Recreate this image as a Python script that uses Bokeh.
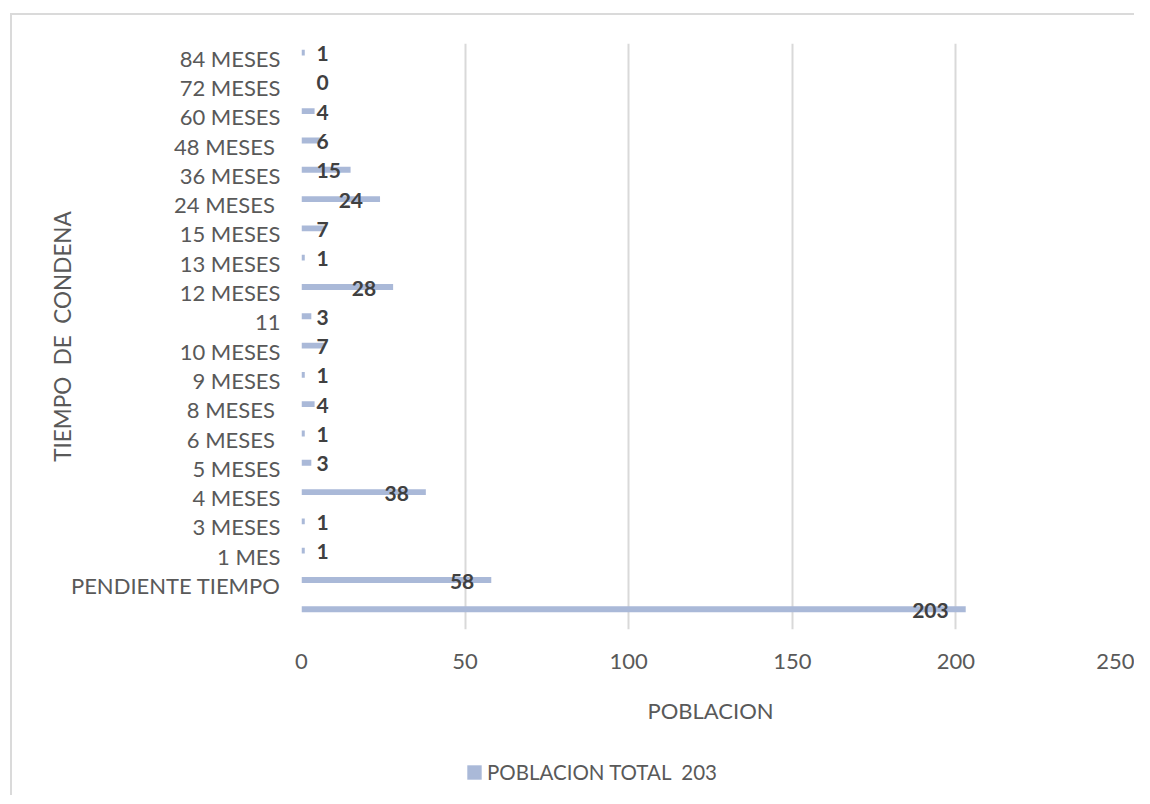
from bokeh.plotting import figure
from bokeh.layouts import column
from bokeh.models import (FactorRange, Range1d, ColumnDataSource, Legend, LegendItem,
                          SingleIntervalTicker)
from bokeh.transform import dodge
from bokeh.core.properties import value, field
from bokeh.embed import file_html
from bokeh.resources import INLINE

# ---- data (bottom to top) ----
categories = ["", "PENDIENTE TIEMPO", "1 MES", "3 MESES", "4 MESES", "5 MESES",
              "6 MESES ", "8 MESES ", "9 MESES", "10 MESES", "11", "12 MESES",
              "13 MESES", "15 MESES", "24 MESES ", "36 MESES", "48 MESES ",
              "60 MESES", "72 MESES", "84 MESES"]
values = [203, 58, 1, 1, 38, 3, 1, 4, 1, 7, 3, 28, 1, 7, 24, 15, 6, 4, 0, 1]
series_name = "POBLACION TOTAL \u00a0203"
x_title = "POBLACION"
y_title = "TIEMPO \u00a0DE \u00a0CONDENA"

BAR = "#aab9d8"
FONT = "Lato"
W = 1122

# label anchoring (inside end for long bars, next to axis for short ones)
inside = [v >= 20 for v in values]
src = ColumnDataSource(dict(
    cat=categories,
    val=values,
    lbl=[str(v) for v in values],
    lx=[v if ins else 0 for v, ins in zip(values, inside)],
    align=["right" if ins else "left" for ins in inside],
    xoff=[-17 if ins else 15 for ins in inside],
))

p = figure(width=W, height=720,
           y_range=FactorRange(factors=categories),
           x_range=Range1d(0, 250),
           output_backend="svg", toolbar_location=None,
           min_border_left=289, min_border_right=15,
           min_border_top=28, min_border_bottom=106)
p.outline_line_color = None
p.background_fill_color = "white"
p.border_fill_color = "white"

r = p.hbar(y=dodge("cat", 0.19, range=p.y_range), left=0, right="val", height=0.2,
           fill_color=BAR, line_color=None, source=src)

p.text(x="lx", y="cat", text="lbl", x_offset="xoff", y_offset=-4.5,
       text_align=field("align"), text_baseline="middle",
       text_font=value(FONT), text_font_style="bold", text_font_size="21px",
       text_color="#404040", source=src)

# grid & axes
p.ygrid.grid_line_color = None
p.xgrid.grid_line_color = "#d9d9d9"
p.xgrid.grid_line_width = 2
p.xaxis.ticker = SingleIntervalTicker(interval=50, num_minor_ticks=0)

for ax in (p.xaxis[0], p.yaxis[0]):
    ax.axis_line_color = None
    ax.major_tick_line_color = None
    ax.minor_tick_line_color = None
    ax.major_tick_out = 0
    ax.major_tick_in = 0
    ax.major_label_text_font = FONT
    ax.major_label_text_color = "#595959"
    ax.axis_label_text_font = FONT
    ax.axis_label_text_font_size = "22px"
    ax.axis_label_text_font_style = "normal"
    ax.axis_label_text_color = "#595959"

p.xaxis.major_label_text_font_size = "22px"
p.yaxis.major_label_text_font_size = "22px"
p.yaxis.axis_label_text_font_size = "22.5px"
p.xaxis.axis_label = x_title
p.yaxis.axis_label = y_title
p.xaxis.major_label_standoff = 24
p.xaxis.axis_label_standoff = 25
p.yaxis.major_label_standoff = 21
p.yaxis.axis_label_standoff = -8

# legend strip below the plot (its hbar lies far outside the strip's visible range)
p2 = figure(width=W, height=60, x_range=Range1d(0, 250), y_range=Range1d(5000, 5001),
            output_backend="svg", toolbar_location=None,
            min_border_left=0, min_border_right=0, min_border_top=0, min_border_bottom=0)
p2.axis.visible = False
p2.grid.grid_line_color = None
p2.outline_line_color = None
r2 = p2.hbar(y="val", left=0, right="val", height=0.2, fill_color=BAR,
             line_color=None, source=src)

legend = Legend(items=[LegendItem(label=series_name, renderers=[r2])],
                location=(164, 11), orientation="horizontal",
                padding=0, margin=0, spacing=0,
                glyph_width=18, glyph_height=18, label_standoff=4,
                label_text_font=FONT, label_text_font_size="20.5px",
                label_text_color="#595959",
                border_line_color=None, background_fill_alpha=0)
p2.add_layout(legend, "center")

layout = column(p, p2, spacing=0)
layout.styles = {"margin-left": "10px", "margin-top": "13px",
                 "border-top": "2px solid #dadada", "border-left": "2px solid #dadada"}

open("out.html", "w").write(file_html(layout, INLINE))
